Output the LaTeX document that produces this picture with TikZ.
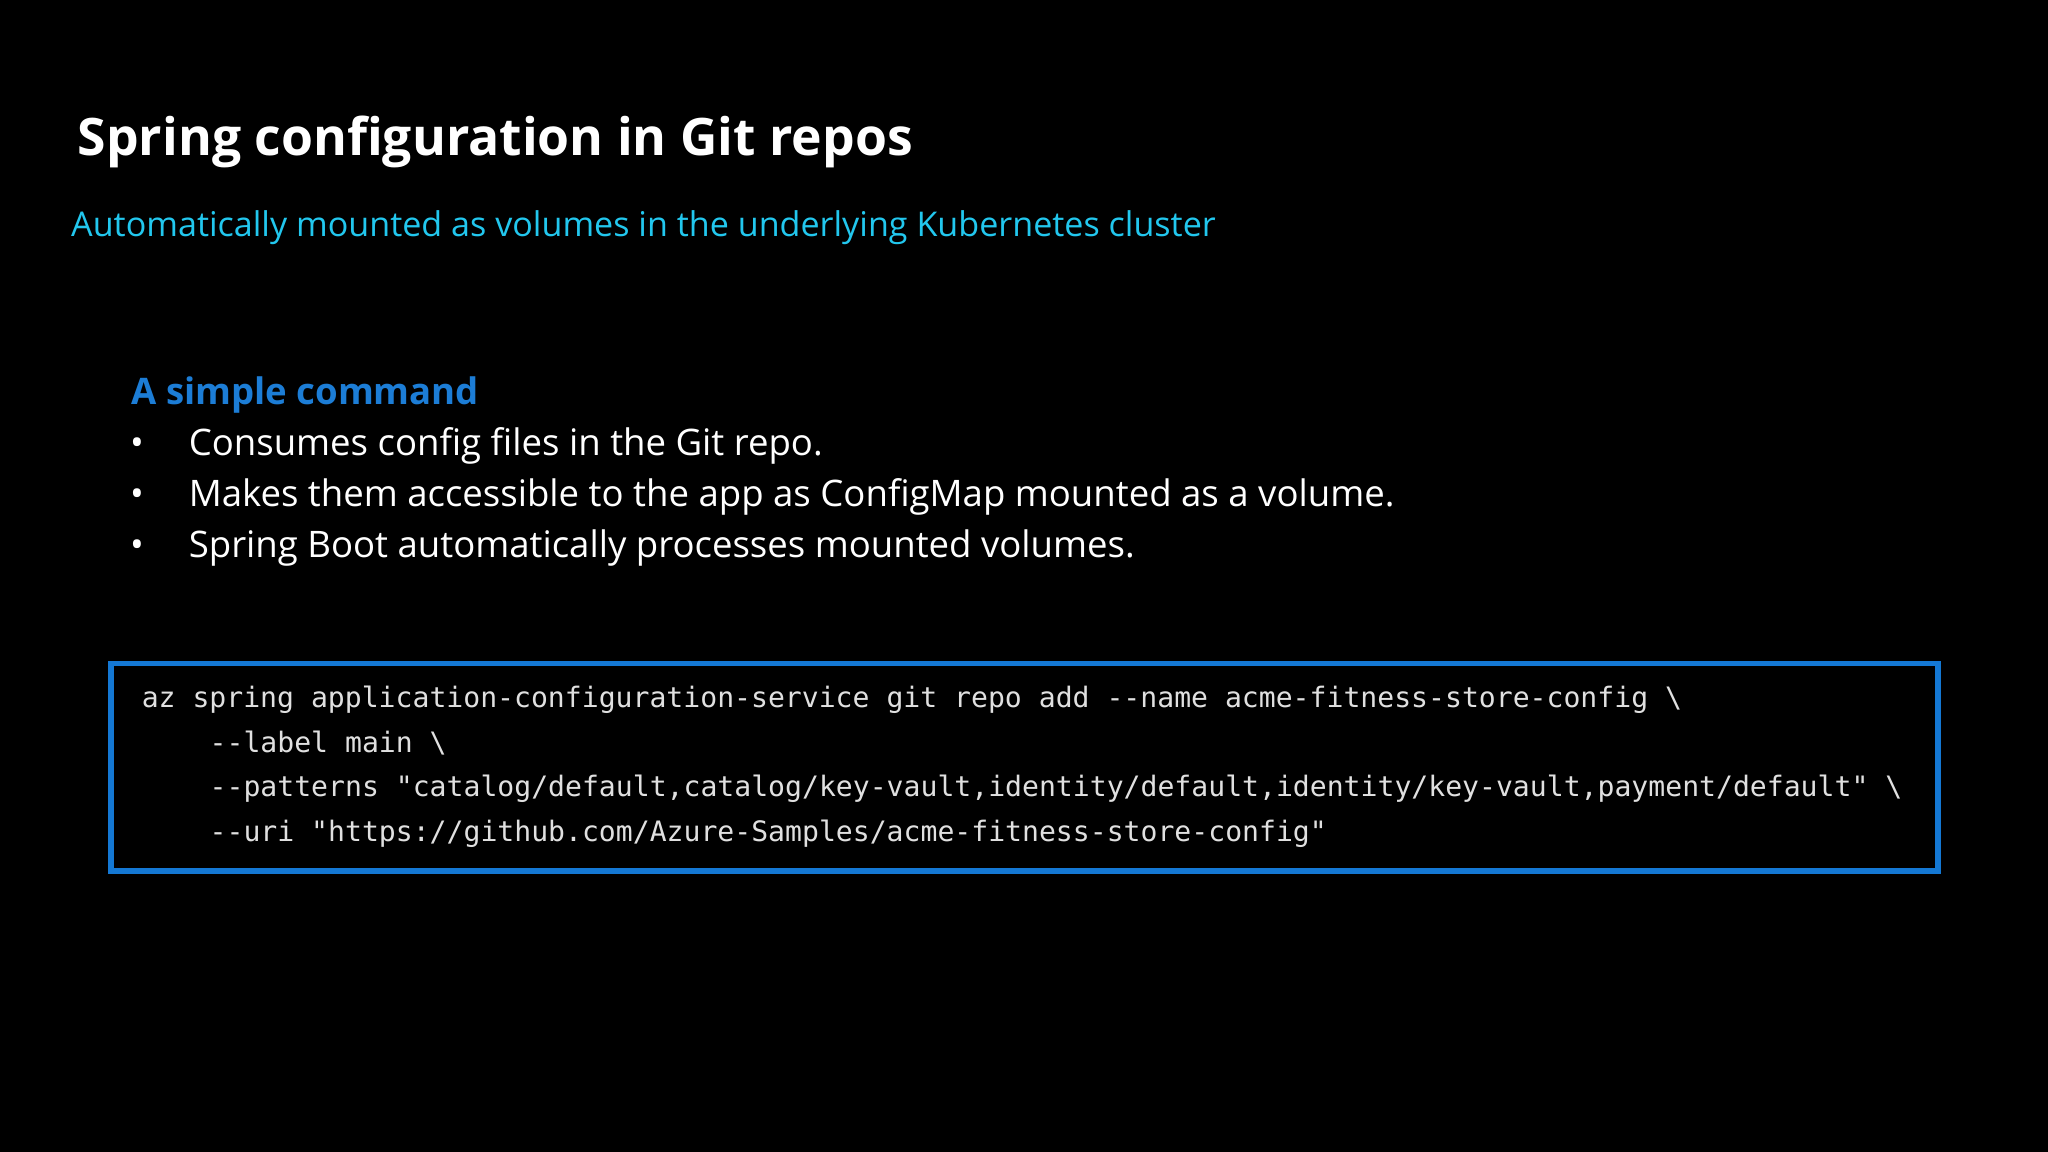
\documentclass[tikz,border=0pt]{standalone}
\usepackage{fontspec}
\setmainfont{Open Sans}
\newfontfamily\codefont{DejaVu Sans Mono}
\definecolor{cyanT}{HTML}{22C7EE}
\definecolor{blueH}{HTML}{1C7DD6}
\definecolor{boxB}{HTML}{1478D4}
\definecolor{codeC}{HTML}{E0E0E0}
\begin{document}
\begin{tikzpicture}[x=0.01306cm,y=-0.01306cm,
  txt/.style={anchor=base west,inner sep=0,text=white},
  code/.style={anchor=base west,inner sep=0,text=codeC,font=\codefont\fontsize{8pt}{10pt}\selectfont}]
\fill[black] (0,0) rectangle (1568,882);
\useasboundingbox (0,0) rectangle (1568,882);
\node[txt,font=\fontsize{14.7pt}{18pt}\selectfont\bfseries] (title) at (59,119) {Spring configuration in Git repos};
\node[txt,text=cyanT,font=\fontsize{9.7pt}{12pt}\selectfont] (sub) at (54,181) {Automatically mounted as volumes in the underlying Kubernetes cluster};
\node[txt,text=blueH,font=\fontsize{10.4pt}{13pt}\selectfont\bfseries] (head) at (100,310) {A simple command};
\foreach \t/\yy [count=\i] in {Consumes config files in the Git repo./349,Makes them accessible to the app as ConfigMap mounted as a volume./388,Spring Boot automatically processes mounted volumes./427}{
  \node[txt,font=\fontsize{10.4pt}{13pt}\selectfont] (b\i) at (144,\yy) {\t};
  \node[txt,font=\fontsize{10.4pt}{13pt}\selectfont] (d\i) at (99,\yy) {•};
}
\draw[boxB,line width=1.6pt] (85,508) rectangle (1484,667);
\node[code] (c1) at (108,542) {az spring application-configuration-service git repo add --name acme-fitness-store-config \textbackslash};
\node[code] (c2) at (160,576) {--label main \textbackslash};
\node[code] (c3) at (160,610) {--patterns "catalog/default,catalog/key-vault,identity/default,identity/key-vault,payment/default" \textbackslash};
\node[code] (c4) at (160,644) {--uri "https://github.com/Azure-Samples/acme-fitness-store-config"};
\end{tikzpicture}
\end{document}
